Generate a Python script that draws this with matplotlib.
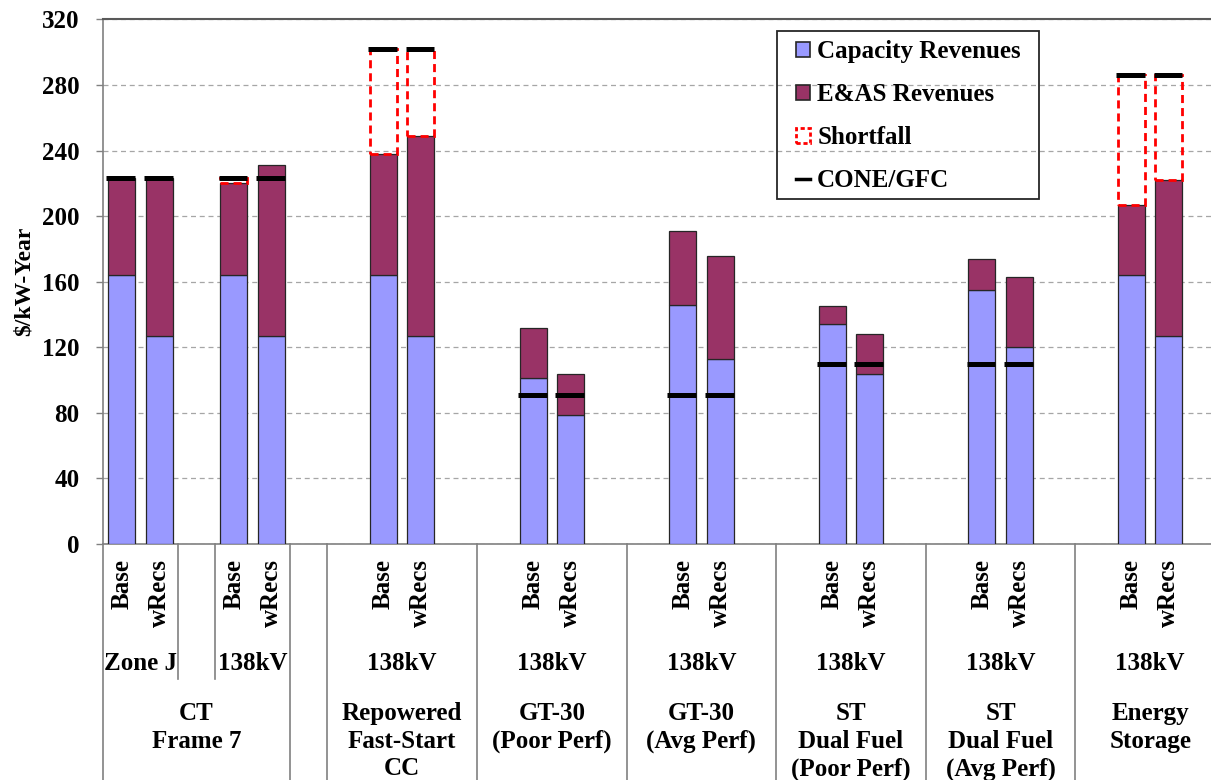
import matplotlib
matplotlib.use("Agg")
import matplotlib.pyplot as plt
from matplotlib.patches import Rectangle, Patch
from matplotlib.lines import Line2D
from matplotlib.transforms import blended_transform_factory

plt.rcParams['font.family'] = ['Liberation Serif', 'DejaVu Serif']
plt.rcParams['font.weight'] = 'bold'

# ---------------- data ----------------
group_names = ["CT\nFrame 7", "", "Repowered\nFast-Start\nCC", "GT-30\n(Poor Perf)",
               "GT-30\n(Avg Perf)", "ST\nDual Fuel\n(Poor Perf)", "ST\nDual Fuel\n(Avg Perf)",
               "Energy\nStorage"]
location_spans = [
    [("Zone J", 2), ("", 1), ("138kV", 2)],
    [("", 1)],
    [("138kV", 4)],
    [("138kV", 4)],
    [("138kV", 4)],
    [("138kV", 4)],
    [("138kV", 4)],
    [("138kV", 4)],
]
slot_cases = [
    ["Base", "wRecs", "", "Base", "wRecs"],
    [""],
    ["", "Base", "wRecs", ""],
    ["", "Base", "wRecs", ""],
    ["", "Base", "wRecs", ""],
    ["", "Base", "wRecs", ""],
    ["", "Base", "wRecs", ""],
    ["", "Base", "wRecs", ""],
]
capacity_rev = [164, 127, 164, 127, 164, 127, 101, 79, 146, 113, 134, 104, 155, 120, 164, 127]
eas_rev      = [59, 96, 56, 104, 74, 122, 31, 25, 45, 63, 11, 24, 19, 43, 43, 95]
cone_gfc     = [223, 223, 223, 223, 302, 302, 91, 91, 91, 91, 110, 110, 110, 110, 286, 286]
y_ticks = [0, 40, 80, 120, 160, 200, 240, 280, 320]

# ---------------- figure ----------------
W, H = 1211, 780
fig = plt.figure(figsize=(W / 100, H / 100), dpi=100)


def fy(px):
    return 1 - px / H


slot_px = 37.4
ax_left, ax_bottom_px, ax_top_px = 103, 544, 19.5
ax = fig.add_axes([ax_left / W, fy(ax_bottom_px), (W - ax_left) / W, (ax_bottom_px - ax_top_px) / H])

# slot layout
bar_pos, bar_case = [], []
group_bounds, group_centers = [], []
loc_bounds, loc_centers, loc_labels = [], [], []
k = 0
for g, cases in enumerate(slot_cases):
    start = k
    for c in cases:
        if c:
            bar_pos.append(k)
            bar_case.append(c)
        k += 1
    group_bounds.append(start - 0.5)
    group_centers.append((start + k - 1) / 2)
    s = start
    for i, (lab, n) in enumerate(location_spans[g]):
        loc_labels.append(lab)
        loc_centers.append(s + (n - 1) / 2)
        if i > 0:
            loc_bounds.append(s - 0.5)
        s += n
group_bounds.append(k - 0.5)

cap_color = '#9999FF'
eas_color = '#993366'
edge = '#262626'
bw = 0.72

ax.bar(bar_pos, capacity_rev, width=bw, color=cap_color, edgecolor=edge, linewidth=0.9, zorder=3)
ax.bar(bar_pos, eas_rev, width=bw, bottom=capacity_rev, color=eas_color, edgecolor=edge,
       linewidth=0.9, zorder=3)

for x, c, e, cone in zip(bar_pos, capacity_rev, eas_rev, cone_gfc):
    total = c + e
    if cone - total > 0.5:
        ax.add_patch(Rectangle((x - bw / 2, total), bw, cone - total, fill=False,
                               edgecolor='#FF0000', linewidth=2.0,
                               linestyle=(0, (2.9, 1.8)), zorder=4))
    ax.hlines(cone, x - bw / 2 - 0.05, x + bw / 2, colors='black', linewidth=3.6, zorder=5,
              capstyle='butt')

ax.set_xlim(-0.5, -0.5 + (W - ax_left) / slot_px)
ax.set_ylim(0, 320)
ax.set_yticks(y_ticks)
ax.tick_params(axis='y', direction='out', length=5, width=1, color='#808080', pad=12, labelsize=18)
for lab in ax.get_yticklabels():
    lab.set_fontweight('bold')
ax.yaxis.grid(True, linestyle=(0, (4, 3)), color='#A6A6A6', linewidth=0.9, zorder=0)
ax.set_axisbelow(True)

ax.set_xticks(bar_pos)
ax.set_xticklabels(bar_case, rotation=90, fontsize=18, fontweight='bold', va='top')
ax.tick_params(axis='x', length=0, pad=10.5)

for s in ['left', 'bottom']:
    ax.spines[s].set_color('#808080')
    ax.spines[s].set_linewidth(1.2)
ax.spines['top'].set_color('#595959')
ax.spines['top'].set_linewidth(1.5)
ax.spines['right'].set_visible(False)

fig.text(24 / W, fy((ax_bottom_px + ax_top_px) / 2), "$/kW-Year", rotation=90, ha='center', va='center',
         fontsize=17, fontweight='bold')

# multi-level category labels below the axis
tr = blended_transform_factory(ax.transData, fig.transFigure)
for xb in group_bounds:
    ax.add_line(Line2D([xb, xb], [fy(544), fy(780)], transform=tr, color='#808080', lw=1.2,
                       clip_on=False))
for xb in loc_bounds:
    ax.add_line(Line2D([xb, xb], [fy(544), fy(679)], transform=tr, color='#808080', lw=1.2,
                       clip_on=False))
for xc, lab in zip(loc_centers, loc_labels):
    if lab:
        ax.text(xc, fy(663), lab, transform=tr, ha='center', va='center', fontsize=18,
                fontweight='bold', clip_on=False)
for xc, lab in zip(group_centers, group_names):
    if lab:
        ax.text(xc, fy(702), lab, transform=tr, ha='center', va='top', fontsize=18,
                fontweight='bold', linespacing=1.26, clip_on=False)

# legend
handles = [
    Patch(facecolor=cap_color, edgecolor=edge, linewidth=1.2),
    Patch(facecolor=eas_color, edgecolor=edge, linewidth=1.2),
    Patch(facecolor='none', edgecolor='#FF0000', linewidth=2, linestyle=(0, (1.5, 1))),
    Line2D([0], [0], color='black', linewidth=2.5),
]
labels = ["Capacity Revenues", "E&AS Revenues", "Shortfall", "CONE/GFC"]
leg = fig.legend(handles, labels, loc='upper left', bbox_to_anchor=(796 / W, fy(40)),
                 frameon=False, fontsize=18, prop={'weight': 'bold', 'size': 18},
                 handlelength=0.55, handleheight=0.55, handletextpad=0.3,
                 labelspacing=0.8, borderpad=0, borderaxespad=0)
fig.add_artist(Rectangle((777 / W, fy(199)), (1039 - 777) / W, (199 - 31) / H,
                         transform=fig.transFigure, fill=False, edgecolor='#262626',
                         linewidth=1.3, zorder=10))

fig.savefig("out.png", dpi=100)
